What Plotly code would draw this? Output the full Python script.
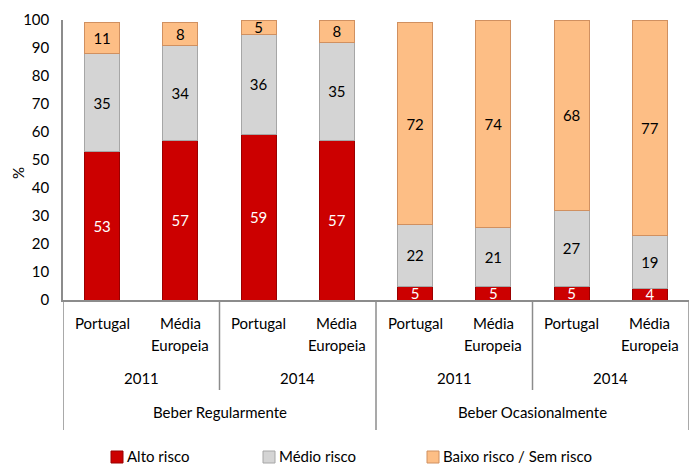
import plotly.graph_objects as go

# Categories (three-level axis: context / year / region)
regions = ["Portugal", "Média Europeia", "Portugal", "Média Europeia",
           "Portugal", "Média Europeia", "Portugal", "Média Europeia"]
years = ["2011", "2014", "2011", "2014"]
contexts = ["Beber Regularmente", "Beber Ocasionalmente"]

# Series values (%)
alto_risco = [53, 57, 59, 57, 5, 5, 5, 4]
medio_risco = [35, 34, 36, 35, 22, 21, 27, 19]
baixo_risco = [11, 8, 5, 8, 72, 74, 68, 77]

FONT = "Lato"
x = list(range(len(regions)))

# plot area in pixels
L, R, T, B = 63, 689, 20, 300

def py(p):
    """pixel row -> paper y"""
    return (B - p) / float(B - T)

def px(p):
    """pixel column -> paper x"""
    return (p - L) / float(R - L)

fig = go.Figure()
series = [
    ("Alto risco", alto_risco, "#CC0000", "#990000", "white", 111),
    ("Médio risco", medio_risco, "#D4D4D4", "#A6A6A6", "black", 263),
    ("Baixo risco / Sem risco", baixo_risco, "#FDBE85", "#D09060", "black", 427),
]
for name, vals, fill, edge, tcol, lx in series:
    fig.add_trace(go.Bar(
        x=x, y=vals, name=name, width=0.45, showlegend=False,
        marker=dict(color=fill, line=dict(color=edge, width=1)),
        text=[str(v) for v in vals], textposition="inside",
        insidetextanchor="middle", textangle=0,
        textfont=dict(family=FONT, size=15, color=tcol),
        constraintext="none",
    ))
    # legend key and label
    fig.add_shape(type="rect", xref="paper", yref="paper",
                  x0=px(lx), x1=px(lx + 12), y0=py(463), y1=py(451),
                  fillcolor=fill, line=dict(color=edge, width=1))
    fig.add_annotation(x=px(lx + 14), y=py(456), xref="paper", yref="paper",
                       text=name, showarrow=False, xanchor="left", yanchor="middle",
                       font=dict(family=FONT, size=15))

fig.update_layout(
    barmode="stack",
    width=689, height=466,
    margin=dict(l=L, r=689 - R, t=T, b=466 - B, autoexpand=False),
    paper_bgcolor="white", plot_bgcolor="white",
    font=dict(family=FONT, size=15, color="black"),
    showlegend=False,
    xaxis=dict(range=[-0.5, 7.5], showticklabels=False, showgrid=False,
               zeroline=False, showline=True, linecolor="#8C8C8C", linewidth=1.5),
    yaxis=dict(range=[0, 100], dtick=10, showgrid=False, zeroline=False,
               showline=True, linecolor="#8C8C8C", linewidth=1.5,
               tickfont=dict(family=FONT, size=15), ticks="",
               ticklabelstandoff=9),
)

# axis title
fig.add_annotation(x=px(18), y=py(173), xref="paper", yref="paper",
                   text="%", textangle=-90, showarrow=False,
                   xanchor="center", yanchor="middle",
                   font=dict(family=FONT, size=15))

# region labels
for i, r in enumerate(regions):
    parts = r.split(" ")
    for j, part in enumerate(parts):
        fig.add_annotation(x=i, y=py(323 + 22 * j), xref="x", yref="paper",
                           text=part, showarrow=False, yanchor="middle",
                           font=dict(family=FONT, size=15))

# year labels
for k, yr in enumerate(years):
    fig.add_annotation(x=2 * k + 0.5, y=py(378), xref="x", yref="paper",
                       text=yr, showarrow=False, yanchor="middle",
                       font=dict(family=FONT, size=15))

# context labels
for k, c in enumerate(contexts):
    fig.add_annotation(x=4 * k + 1.5, y=py(412), xref="x", yref="paper",
                       text=c, showarrow=False, yanchor="middle",
                       font=dict(family=FONT, size=15))

# group separators
for xs, bottom in [(-0.5, 430), (1.5, 390), (3.5, 430), (5.5, 390), (7.5, 430)]:
    fig.add_shape(type="line", xref="x", yref="paper", x0=xs, x1=xs,
                  y0=0, y1=py(bottom), line=dict(color="#8C8C8C", width=1.5))

fig.write_html("out.html")
